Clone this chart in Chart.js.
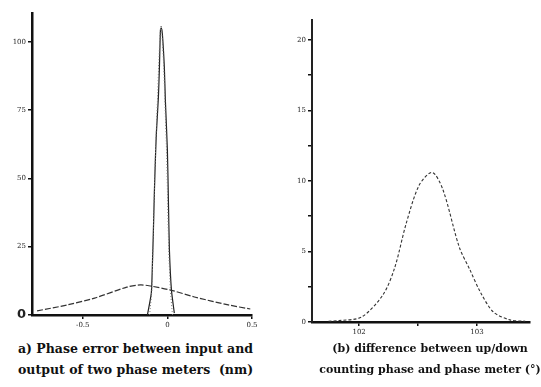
<!DOCTYPE html>
<html>
<head>
<meta charset="utf-8">
<script src="https://cdn.jsdelivr.net/npm/chart.js@4.4.0/dist/chart.umd.min.js"></script>
<style>
body { margin: 0; background: #fff; width: 541px; height: 387px; position: relative; overflow: hidden; }
canvas { position: absolute; top: 0; }
#chartA { left: 0; }
#chartB { left: 270px; }
.caption { position: absolute; font-family: "DejaVu Serif", serif; font-weight: bold; line-height: 21px; color: #111; white-space: nowrap; }
#capA { left: 18px; top: 338px; font-size: 12.5px; }
#capB { left: 430px; top: 338px; font-size: 11px; transform: translateX(-50%); text-align: center; }
</style>
</head>
<body>
<canvas id="chartA" width="270" height="335"></canvas>
<canvas id="chartB" width="271" height="340"></canvas>
<div class="caption" id="capA">a) Phase error between input and<br>output of two phase meters&nbsp; (nm)</div>
<div class="caption" id="capB">(b) difference between up/down<br>counting phase and phase meter (°)</div>
<script>
// (a) phase error, two narrow curves + one broad curve
var spikeSolidX = [-0.118, -0.095, -0.089, -0.083, -0.077, -0.071, -0.065, -0.053, -0.047, -0.041, -0.036, -0.030, -0.018, -0.012, 0.000, 0.006, 0.012, 0.024, 0.041];
var spikeSolidY = [0, 8, 17.6, 30, 44.6, 56.7, 66.6, 79.8, 90.7, 104.3, 105, 103.2, 90.7, 78.7, 60.4, 42, 23.8, 9.1, 0.7];
var spikeDotX = [-0.105, -0.092, -0.085, -0.077, -0.069, -0.059, -0.051, -0.043, -0.037, -0.031, -0.021, -0.014, -0.004, 0.002, 0.008, 0.018, 0.030];
var spikeDotY = [0, 9, 25, 45, 62, 78, 92, 103, 106, 102, 90, 77, 58, 40, 24, 9, 0];
var broadX = [-0.77, -0.59, -0.43, -0.24, -0.16, -0.10, 0.02, 0.16, 0.36, 0.49];
var broadY = [1.5, 3.7, 6.2, 10.2, 11, 10.6, 9.1, 6.6, 3.7, 2.2];
var ticksAX = [-0.5, 0, 0.5];
var labelsAX = ['-0.5', '0', '0.5'];
var ticksAY = [0, 25, 50, 75, 100];

// (b) up/down counting difference
var gaussX = [101.74, 101.83, 102.02, 102.20, 102.30, 102.40, 102.51, 102.62, 102.71, 102.85, 102.94, 103.03, 103.14, 103.28, 103.41];
var gaussY = [0.05, 0.1, 0.35, 1.9, 3.8, 7.0, 9.7, 10.6, 9.4, 5.3, 3.7, 2.1, 0.7, 0.15, 0.05];
var ticksBX = [102, 102.5, 103];
var labelsBX = ['102', '', '103'];
var ticksBY = [0, 2.5, 5, 7.5, 10, 12.5, 15, 17.5, 20];

function pts(xs, ys) {
    var out = [];
    for (let i = 0; i < xs.length; i++) {
        out.push({ x: xs[i], y: ys[i] });
    }
    return out;
}

function fixTicks(list) {
    return function (scale) {
        scale.ticks = list.map(function (v) { return { value: v }; });
    };
}

var tickFont = { family: 'DejaVu Serif', size: 7 };

function axis(opts) {
    return Object.assign({
        type: 'linear',
        border: { color: '#111', width: 2.5 },
        grid: { drawOnChartArea: false, tickLength: 4, color: '#111', lineWidth: 1.5 },
        ticks: { color: '#222', font: tickFont, padding: 2, maxRotation: 0, autoSkip: false }
    }, opts);
}

var chartA = new Chart(document.getElementById('chartA').getContext('2d'), {
    type: 'line',
    data: {
        datasets: [
            { data: pts(broadX, broadY), borderColor: '#333', borderWidth: 1.2, borderDash: [6, 2], tension: 0.3 },
            { data: pts(spikeDotX, spikeDotY), borderColor: '#777', borderWidth: 1, borderDash: [1, 2], tension: 0.2 },
            { data: pts(spikeSolidX, spikeSolidY), borderColor: '#222', borderWidth: 1.2, tension: 0.2 }
        ]
    },
    options: {
        responsive: false,
        animation: false,
        layout: { padding: { left: 0, right: 18, top: 13, bottom: 0 } },
        elements: { point: { radius: 0 } },
        plugins: { legend: { display: false }, tooltip: { enabled: false } },
        scales: {
            x: axis({
                min: -0.8, max: 0.5,
                afterBuildTicks: fixTicks(ticksAX),
                afterFit: function (s) { s.height = 20; },
                ticks: { color: '#222', font: tickFont, padding: 2, maxRotation: 0, autoSkip: false,
                    callback: function (v) { return labelsAX[ticksAX.indexOf(v)]; } }
            }),
            y: axis({
                min: 0, max: 110.5,
                afterBuildTicks: fixTicks(ticksAY),
                afterFit: function (s) { s.width = 32; },
                ticks: { color: '#222', padding: 2, autoSkip: false,
                    font: function (c) { return c.tick && c.tick.value === 0 ? { family: 'DejaVu Sans', size: 13, weight: 'bold' } : tickFont; } }
            })
        }
    }
});

var chartB = new Chart(document.getElementById('chartB').getContext('2d'), {
    type: 'line',
    data: {
        datasets: [
            { data: pts(gaussX, gaussY), borderColor: '#333', borderWidth: 1.1, borderDash: [3, 2], tension: 0.3 }
        ]
    },
    options: {
        responsive: false,
        animation: false,
        layout: { padding: { left: 0, right: 11, top: 20, bottom: 0 } },
        elements: { point: { radius: 0 } },
        plugins: { legend: { display: false }, tooltip: { enabled: false } },
        scales: {
            x: axis({
                min: 101.6, max: 103.45,
                afterBuildTicks: fixTicks(ticksBX),
                afterFit: function (s) { s.height = 18; },
                ticks: { color: '#222', font: tickFont, padding: 2, maxRotation: 0, autoSkip: false,
                    callback: function (v) { return labelsBX[ticksBX.indexOf(v)]; } }
            }),
            y: axis({
                min: 0, max: 21.4,
                border: { color: '#222', width: 2 },
                afterBuildTicks: fixTicks(ticksBY),
                afterFit: function (s) { s.width = 42; },
                ticks: { color: '#222', font: tickFont, padding: 2, autoSkip: false,
                    callback: function (v) { return v % 5 === 0 ? String(v) : ''; } }
            })
        }
    }
});
</script>
</body>
</html>
